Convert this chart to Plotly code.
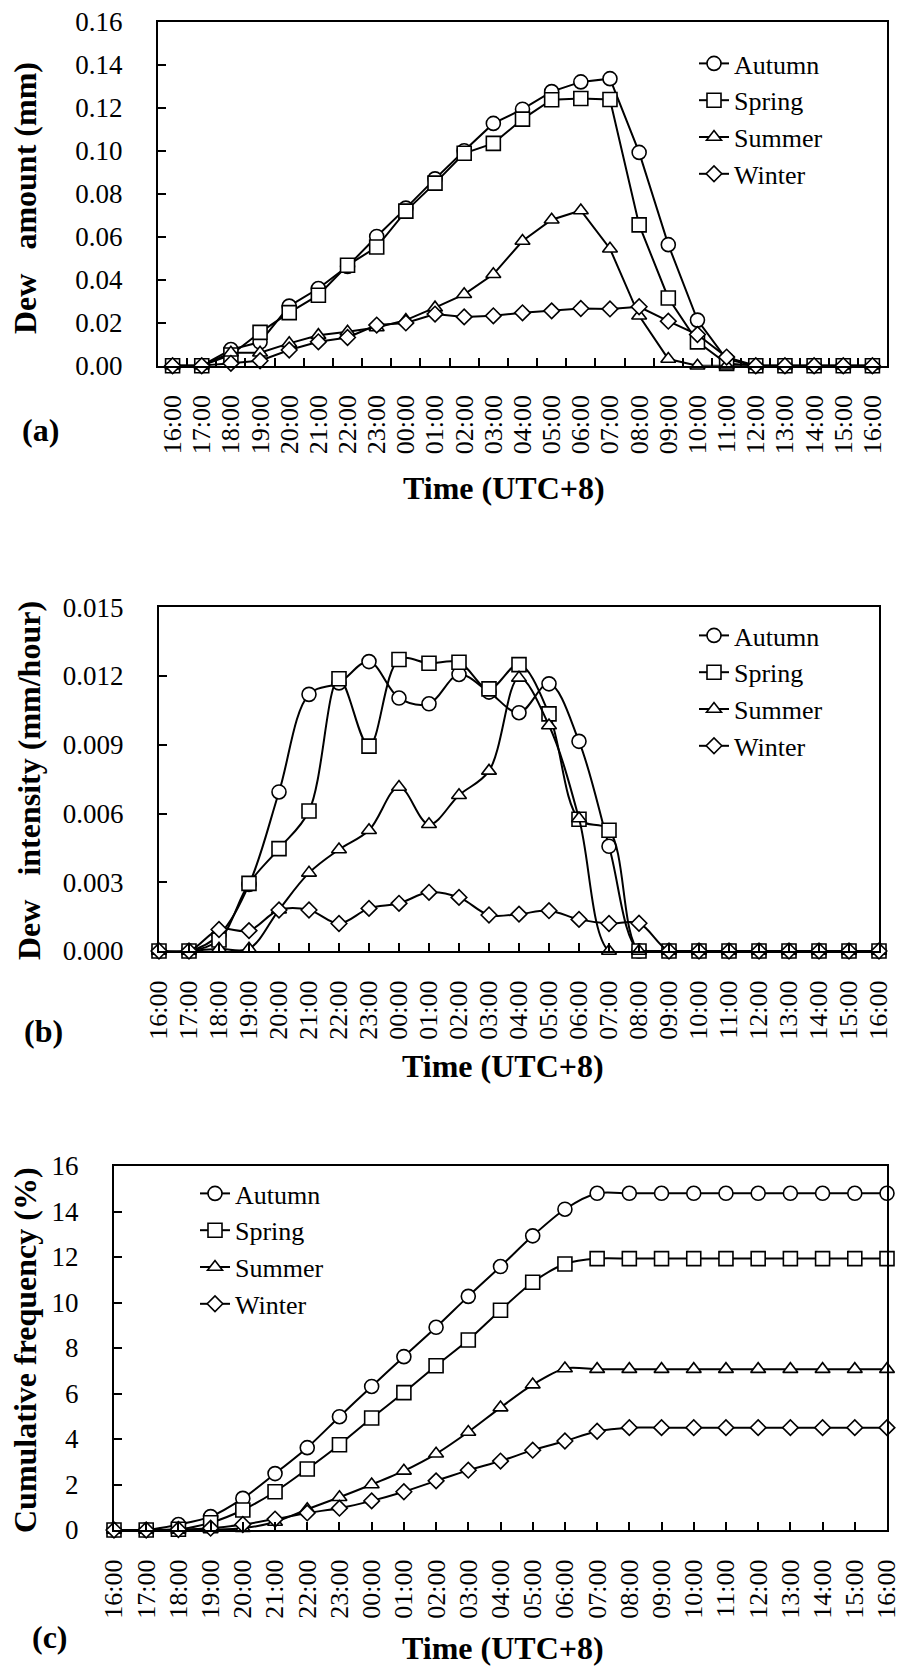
import plotly.graph_objects as go

W, H = 901, 1668
ML, MR, MT, MB = 20, 12, 20, 20

times = ["16:00", "17:00", "18:00", "19:00", "20:00", "21:00", "22:00", "23:00",
         "00:00", "01:00", "02:00", "03:00", "04:00", "05:00", "06:00", "07:00",
         "08:00", "09:00", "10:00", "11:00", "12:00", "13:00", "14:00", "15:00", "16:00"]
seasons = ["Autumn", "Spring", "Summer", "Winter"]

# (a) Dew amount (mm)
amount_autumn = [0, 0, 0.0075, 0.011, 0.0277, 0.0359, 0.0462, 0.0601, 0.0733, 0.0869, 0.1000, 0.1127,
                 0.1193, 0.1275, 0.1320, 0.1335, 0.0992, 0.0563, 0.0212, 0.0030, 0, 0, 0, 0, 0]
amount_spring = [0, 0, 0.005, 0.0155, 0.0247, 0.0328, 0.0467, 0.0552, 0.0719, 0.0849, 0.0988, 0.1034,
                 0.1147, 0.1237, 0.1243, 0.1238, 0.0655, 0.0315, 0.0111, 0.0010, 0, 0, 0, 0, 0]
amount_summer = [0, 0, 0.006, 0.006, 0.0104, 0.0142, 0.0158, 0.0178, 0.0212, 0.0270, 0.0332, 0.0425,
                 0.0580, 0.0679, 0.0722, 0.0544, 0.0232, 0.0031, 0, 0, 0, 0, 0, 0, 0]
amount_winter = [0, 0, 0.0011, 0.0023, 0.0073, 0.0111, 0.0131, 0.0189, 0.0199, 0.0240, 0.0227, 0.0232,
                 0.0246, 0.0255, 0.0266, 0.0264, 0.0274, 0.0207, 0.0145, 0.0040, 0, 0, 0, 0, 0]

# (b) Dew intensity (mm/hour)
intensity_autumn = [0, 0, 0.0007, 0.0029, 0.00694, 0.0112, 0.0117, 0.01263, 0.01104, 0.01079, 0.01207, 0.0113,
                    0.0104, 0.01166, 0.00915, 0.00457, 0, 0, 0, 0, 0, 0, 0, 0, 0]
intensity_spring = [0, 0, 0.00048, 0.00295, 0.00447, 0.00611, 0.01188, 0.00894, 0.01272, 0.01256, 0.0126, 0.01144,
                    0.0125, 0.01035, 0.00575, 0.00527, 0, 0, 0, 0, 0, 0, 0, 0, 0]
intensity_summer = [0, 0, 0.0001, 0.0001, 0.0018, 0.00341, 0.00443, 0.00527, 0.00716, 0.00553, 0.0068, 0.00786,
                    0.01192, 0.00984, 0.00578, 0, 0, 0, 0, 0, 0, 0, 0, 0, 0]
intensity_winter = [0, 0, 0.00094, 0.00089, 0.00179, 0.00179, 0.0012, 0.00186, 0.00208, 0.00256, 0.00234, 0.00157,
                    0.00161, 0.00176, 0.00138, 0.0012, 0.00121, 0, 0, 0, 0, 0, 0, 0, 0]

# (c) Cumulative frequency (%)
freq_autumn = [0, 0, 0.24, 0.59, 1.39, 2.48, 3.62, 4.98, 6.31, 7.62, 8.91, 10.27, 11.58, 12.93, 14.10, 14.80,
               14.80, 14.80, 14.80, 14.80, 14.80, 14.80, 14.80, 14.80, 14.80]
freq_spring = [0, 0, 0.03, 0.32, 0.88, 1.68, 2.68, 3.75, 4.92, 6.04, 7.22, 8.35, 9.66, 10.89, 11.69, 11.93,
               11.93, 11.93, 11.93, 11.93, 11.93, 11.93, 11.93, 11.93, 11.93]
freq_summer = [0, 0, 0, 0.02, 0.08, 0.35, 0.91, 1.44, 2.00, 2.60, 3.35, 4.31, 5.38, 6.39, 7.10, 7.07,
               7.07, 7.07, 7.07, 7.07, 7.07, 7.07, 7.07, 7.07, 7.07]
freq_winter = [0, 0, 0.02, 0.08, 0.24, 0.48, 0.75, 0.96, 1.28, 1.68, 2.16, 2.63, 3.03, 3.51, 3.91, 4.34,
               4.50, 4.50, 4.50, 4.50, 4.50, 4.50, 4.50, 4.50, 4.50]

FONT = "Liberation Serif"
symbols = {"Autumn": "circle", "Spring": "square", "Summer": "triangle-up", "Winter": "diamond"}
msize = {"Autumn": 14, "Spring": 14, "Summer": 13, "Winter": 12}

xs = list(range(len(times)))

panels = [
    ("x", "y", "legend", [amount_autumn, amount_spring, amount_summer, amount_winter], "linear", None),
    ("x2", "y2", "legend2", [intensity_autumn, intensity_spring, intensity_summer, intensity_winter], "spline", 1.0),
    ("x3", "y3", "legend3", [freq_autumn, freq_spring, freq_summer, freq_winter], "spline", 0.8),
]

fig = go.Figure()
for xa, ya, lg, series, shape, smooth in panels:
    for name, vals in zip(seasons, series):
        line = dict(color="black", width=2, shape=shape)
        if smooth is not None:
            line["smoothing"] = smooth
        fig.add_trace(go.Scatter(
            x=xs, y=vals, name=name, mode="lines+markers", xaxis=xa, yaxis=ya, legend=lg,
            cliponaxis=False, line=line,
            marker=dict(symbol=symbols[name], size=msize[name], color="white",
                        line=dict(color="black", width=1.6)),
        ))


def fx(v):
    return (v - ML) / (W - ML - MR)


def fy(v):
    return 1 - (v - MT) / (H - MT - MB)


tickfont = dict(family=FONT, size=26, color="black")
ytickfont = dict(family=FONT, size=27, color="black")

common_x = dict(showline=True, linecolor="black", linewidth=2, mirror=True, showgrid=False, zeroline=False,
                tickmode="array", tickvals=xs, ticktext=times, tickangle=-90, tickfont=tickfont,
                ticklabelstandoff=17, ticklabeloverflow="allow")
common_y = dict(showline=True, linecolor="black", linewidth=2, mirror=True, showgrid=False, zeroline=False,
                ticks="inside", ticklen=8, tickwidth=2, tickcolor="black", tickfont=ytickfont,
                ticklabelstandoff=28)

layout = dict(
    width=W, height=H, margin=dict(l=ML, r=MR, t=MT, b=MB, autoexpand=False),
    paper_bgcolor="white", plot_bgcolor="white", font=dict(family=FONT, color="black"),
    xaxis=dict(common_x, domain=[fx(158), fx(887)], anchor="y", range=[-0.5, 24.5], ticks="",
               minor=dict(tickmode="array", tickvals=[i + 0.5 for i in range(24)], ticks="inside",
                          ticklen=8, tickwidth=2, tickcolor="black")),
    yaxis=dict(common_y, domain=[fy(365.7), fy(21.7)], anchor="x", range=[0, 0.16], dtick=0.02,
               tickformat=".2f"),
    xaxis2=dict(common_x, domain=[fx(159), fx(879)], anchor="y2", range=[0, 24], ticks="inside",
                ticklen=8, tickwidth=2, tickcolor="black"),
    yaxis2=dict(common_y, domain=[fy(951), fy(607.3)], anchor="x2", range=[0, 0.015], dtick=0.003,
                tickformat=".3f"),
    xaxis3=dict(common_x, domain=[fx(114), fx(887)], anchor="y3", range=[0, 24], ticks="inside",
                ticklen=8, tickwidth=2, tickcolor="black"),
    yaxis3=dict(common_y, domain=[fy(1530), fy(1166)], anchor="x3", range=[0, 16], dtick=2),
)

legfont = dict(family=FONT, size=26, color="black")
layout["legend"] = dict(x=fx(694), y=fy(40), xanchor="left", yanchor="top", font=legfont,
                        bgcolor="rgba(0,0,0,0)")
layout["legend2"] = dict(x=fx(694), y=fy(612), xanchor="left", yanchor="top", font=legfont,
                         bgcolor="rgba(0,0,0,0)")
layout["legend3"] = dict(x=fx(195), y=fy(1170), xanchor="left", yanchor="top", font=legfont,
                         bgcolor="rgba(0,0,0,0)")

NB = "\u00a0"
annots = [
    ("<b>Dew" + NB * 3 + "amount" + NB + "(mm)</b>", 25, 198, -90, 32),
    ("<b>Time (UTC+8)</b>", 504, 488, 0, 32),
    ("<b>(a)</b>", 40, 430, 0, 32),
    ("<b>Dew" + NB * 3 + "intensity" + NB + "(mm/hour)</b>", 29, 781, -90, 32),
    ("<b>Time (UTC+8)</b>", 503, 1066, 0, 32),
    ("<b>(b)</b>", 43, 1031, 0, 32),
    ("<b>Cumulative frequency (%)</b>", 25, 1350, -90, 32),
    ("<b>Time (UTC+8)</b>", 503, 1648, 0, 32),
    ("<b>(c)</b>", 50, 1637, 0, 32),
]
layout["annotations"] = [
    dict(text=t, x=fx(x), y=fy(y), xref="paper", yref="paper", xanchor="center", yanchor="middle",
         showarrow=False, textangle=a, font=dict(family=FONT, size=s, color="black"))
    for t, x, y, a, s in annots
]

fig.update_layout(**layout)
fig.write_html("out.html")
